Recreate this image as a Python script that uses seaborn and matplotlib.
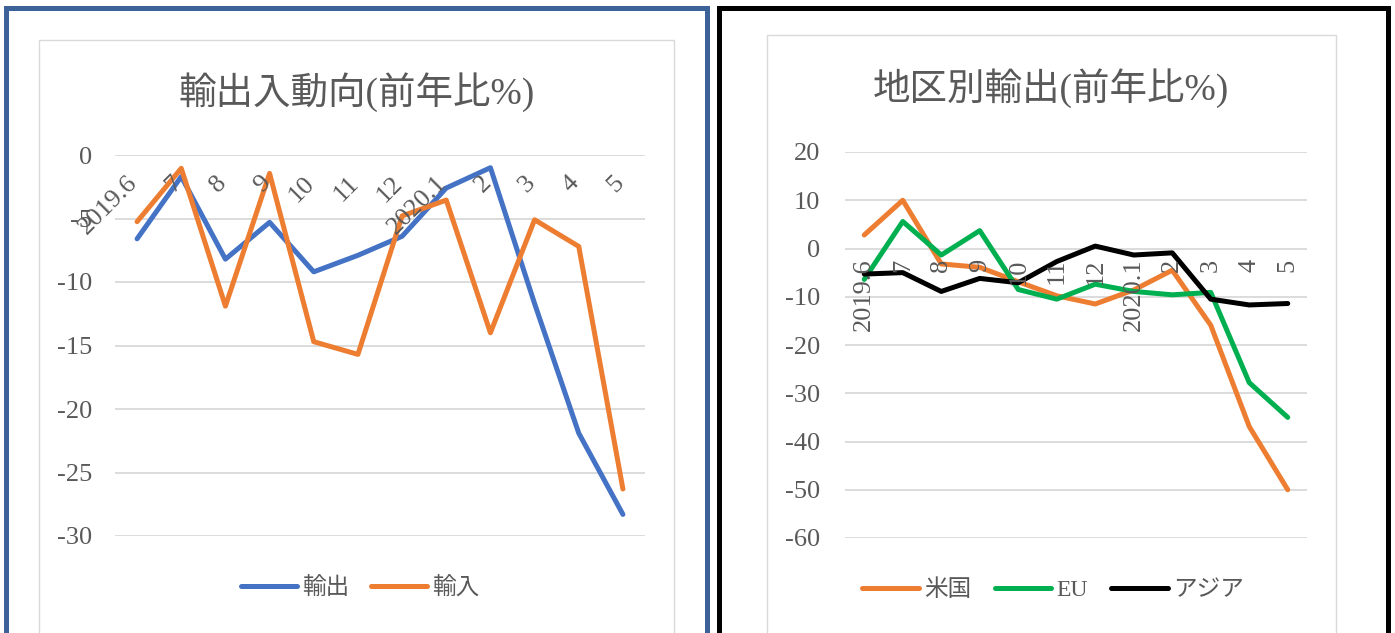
import matplotlib
matplotlib.use('Agg')
import matplotlib.pyplot as plt
from matplotlib.patches import Rectangle
import numpy as np
import pandas as pd
import seaborn as sns

# data
months = ['2019.6', '7', '8', '9', '10', '11', '12', '2020.1', '2', '3', '4', '5']
export = [-6.6, -1.7, -8.2, -5.3, -9.2, -7.9, -6.4, -2.6, -1.0, -11.7, -21.9, -28.3]
imports = [-5.25, -1.05, -11.9, -1.45, -14.7, -15.7, -4.8, -3.55, -14.0, -5.1, -7.2, -26.3]
us = [2.8, 10.0, -3.2, -3.9, -6.9, -9.8, -11.5, -8.6, -4.5, -15.9, -36.9, -50.0]
eu = [-6.4, 5.6, -1.35, 3.7, -8.5, -10.5, -7.4, -8.9, -9.6, -9.1, -27.8, -35.0]
asia = [-5.3, -5.0, -8.9, -6.2, -7.1, -2.7, 0.5, -1.35, -0.9, -10.5, -11.7, -11.4]

title1 = '輸出入動向(前年比%)'
title2 = '地区別輸出(前年比%)'
names1 = ['輸出', '輸入']
names2 = ['米国', 'EU', 'アジア']
colors1 = ['#4472C4', '#ED7D31']
colors2 = ['#ED7D31', '#00B050', '#000000']

sns.set_style('white')
plt.rcParams['font.family'] = ['Liberation Serif', 'Noto Sans CJK JP']
plt.rcParams['axes.unicode_minus'] = False
gray = '#595959'
grid = '#D9D9D9'

W, H = 1395, 633
def fx(p):
    return p / W
def fy(p):
    return 1 - p / H

fig = plt.figure(figsize=(13.95, 6.33), dpi=100)

# outer panel frames and inner chart-area frames
fig.patches.append(Rectangle((fx(6), fy(660)), fx(707) - fx(6), (660 - 8) / H,
                             transform=fig.transFigure, fill=False, ec='#3D6199', lw=3.6))
fig.patches.append(Rectangle((fx(719), fy(660)), fx(1388) - fx(719), (660 - 8) / H,
                             transform=fig.transFigure, fill=False, ec='black', lw=3.6))
fig.patches.append(Rectangle((fx(39), fy(660)), fx(674) - fx(39), (660 - 40) / H,
                             transform=fig.transFigure, fill=False, ec=grid, lw=1.0))
fig.patches.append(Rectangle((fx(767), fy(660)), fx(1336) - fx(767), (660 - 35) / H,
                             transform=fig.transFigure, fill=False, ec=grid, lw=1.0))

ax1 = fig.add_axes([fx(115), fy(536), fx(645) - fx(115), (536 - 155) / H])
ax2 = fig.add_axes([fx(845), fy(538), fx(1307) - fx(845), (538 - 152) / H])

idx = np.arange(len(months))
df1 = pd.DataFrame({'x': np.tile(idx, 2), 'v': export + imports,
                    's': np.repeat(names1, len(months))})
df2 = pd.DataFrame({'x': np.tile(idx, 3), 'v': us + eu + asia,
                    's': np.repeat(names2, len(months))})

sns.lineplot(data=df1, x='x', y='v', hue='s', hue_order=names1, palette=colors1,
             lw=3.6, ax=ax1, legend=False, solid_capstyle='round', solid_joinstyle='round')
sns.lineplot(data=df2, x='x', y='v', hue='s', hue_order=names2, palette=colors2,
             lw=3.6, ax=ax2, legend=False, solid_capstyle='round', solid_joinstyle='round')

for ax, lo, hi, step in [(ax1, -30, 0, 5), (ax2, -60, 20, 10)]:
    ax.set_xlim(-0.5, 11.5)
    ax.set_ylim(lo, hi)
    ax.set_yticks(np.arange(lo, hi + 1, step))
    ax.set_xticks([])
    ax.set_xlabel('')
    ax.set_ylabel('')
    for sp in ax.spines.values():
        sp.set_visible(False)
    ax.grid(axis='y', color=grid, lw=1.3)
    ax.set_axisbelow(True)
    ax.patch.set_alpha(0)
    ax.tick_params(axis='y', length=0, labelsize=19, labelcolor=gray)

ax1.tick_params(axis='y', pad=16.5)
ax2.tick_params(axis='y', pad=18)

for i, m in enumerate(months):
    ax1.annotate(m, xy=(i, 0), xytext=(5, -17), textcoords='offset pixels',
                 rotation=45, ha='right', va='top', fontsize=19, color=gray,
                 annotation_clip=False)
    ax2.annotate(m, xy=(i, 0), xytext=(0, -10), textcoords='offset pixels',
                 rotation=90, ha='center', va='top', fontsize=19, color=gray,
                 annotation_clip=False)

fig.text(fx(357), fy(92), title1, ha='center', va='center', fontsize=27, color=gray)
fig.text(fx(1051), fy(88), title2, ha='center', va='center', fontsize=27, color=gray)

fig.legend(handles=ax1.get_lines()[:2], labels=names1, loc='center',
           bbox_to_anchor=(fx(360), fy(588)), ncol=2, frameon=False, fontsize=17,
           handlelength=2.4, handletextpad=0.2, columnspacing=0.9, labelcolor=gray)
fig.legend(handles=ax2.get_lines()[:3], labels=names2, loc='center',
           bbox_to_anchor=(fx(1053), fy(590)), ncol=3, frameon=False, fontsize=17,
           handlelength=2.4, handletextpad=0.2, columnspacing=1.0, labelcolor=gray)

fig.savefig('out.png', dpi=100)
